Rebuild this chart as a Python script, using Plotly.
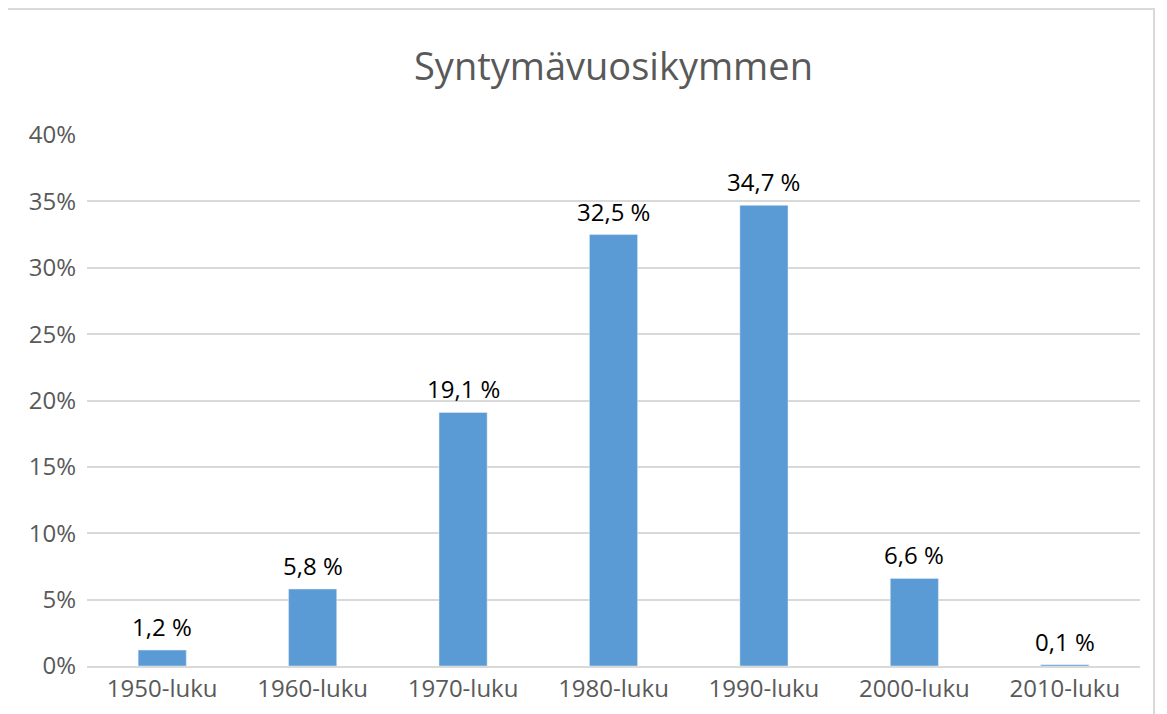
import plotly.graph_objects as go

categories = ["1950-luku", "1960-luku", "1970-luku", "1980-luku", "1990-luku", "2000-luku", "2010-luku"]
values = [1.2, 5.8, 19.1, 32.5, 34.7, 6.6, 0.1]
labels = [f"{v:.1f} %".replace(".", ",") for v in values]
tick_vals = [0, 5, 10, 15, 20, 25, 30, 35, 40]
tick_text = [f"{t}%" for t in tick_vals]

OFF = 8  # page body margin
W, H = 1167 - OFF, 714 - OFF
L, R, T, B = 87 - OFF, 27, 135 - OFF, 48
pw, ph = W - L - R, H - T - B

def px_x(x):
    return (x - OFF - L) / pw

def px_y(y):
    return (H - B - (y - OFF)) / ph

FONT = "Open Sans, Liberation Sans, sans-serif"

fig = go.Figure(go.Bar(
    x=categories, y=values,
    marker_color="#5B9BD5",
))

annotations = [
    dict(x=c, y=v, xref="x", yref="y", text=t, showarrow=False,
         yanchor="bottom", xanchor="center", yshift=5,
         font=dict(size=24, color="#000000", family=FONT))
    for c, v, t in zip(categories, values, labels)
]

fig.update_layout(
    width=W, height=H,
    margin=dict(l=L, r=R, t=T, b=B),
    paper_bgcolor="white", plot_bgcolor="white",
    bargap=0.68,
    showlegend=False,
    title=dict(text="Syntymävuosikymmen", x=0.5, xref="paper",
               xanchor="center", y=1 - (67 - OFF) / H, yanchor="middle",
               font=dict(size=38, color="#595959", family=FONT)),
    font=dict(family=FONT, size=24, color="#595959"),
    xaxis=dict(showgrid=False, showline=True, linecolor="#D9D9D9", linewidth=2,
               ticks="", automargin=False, tickfont=dict(size=24, color="#595959")),
    yaxis=dict(range=[0, 40], tickvals=tick_vals, ticktext=tick_text, showgrid=True,
               gridcolor="#D9D9D9", gridwidth=2, zeroline=False, showline=False, ticks="",
               automargin=False, ticklabelstandoff=10, tickfont=dict(size=24, color="#595959")),
    annotations=annotations,
    shapes=[dict(type="rect", xref="paper", yref="paper",
                 x0=px_x(5), x1=px_x(1154), y0=px_y(740), y1=px_y(9),
                 line=dict(color="#D9D9D9", width=2), fillcolor="rgba(0,0,0,0)", layer="below")],
)

fig.write_html("out.html")
